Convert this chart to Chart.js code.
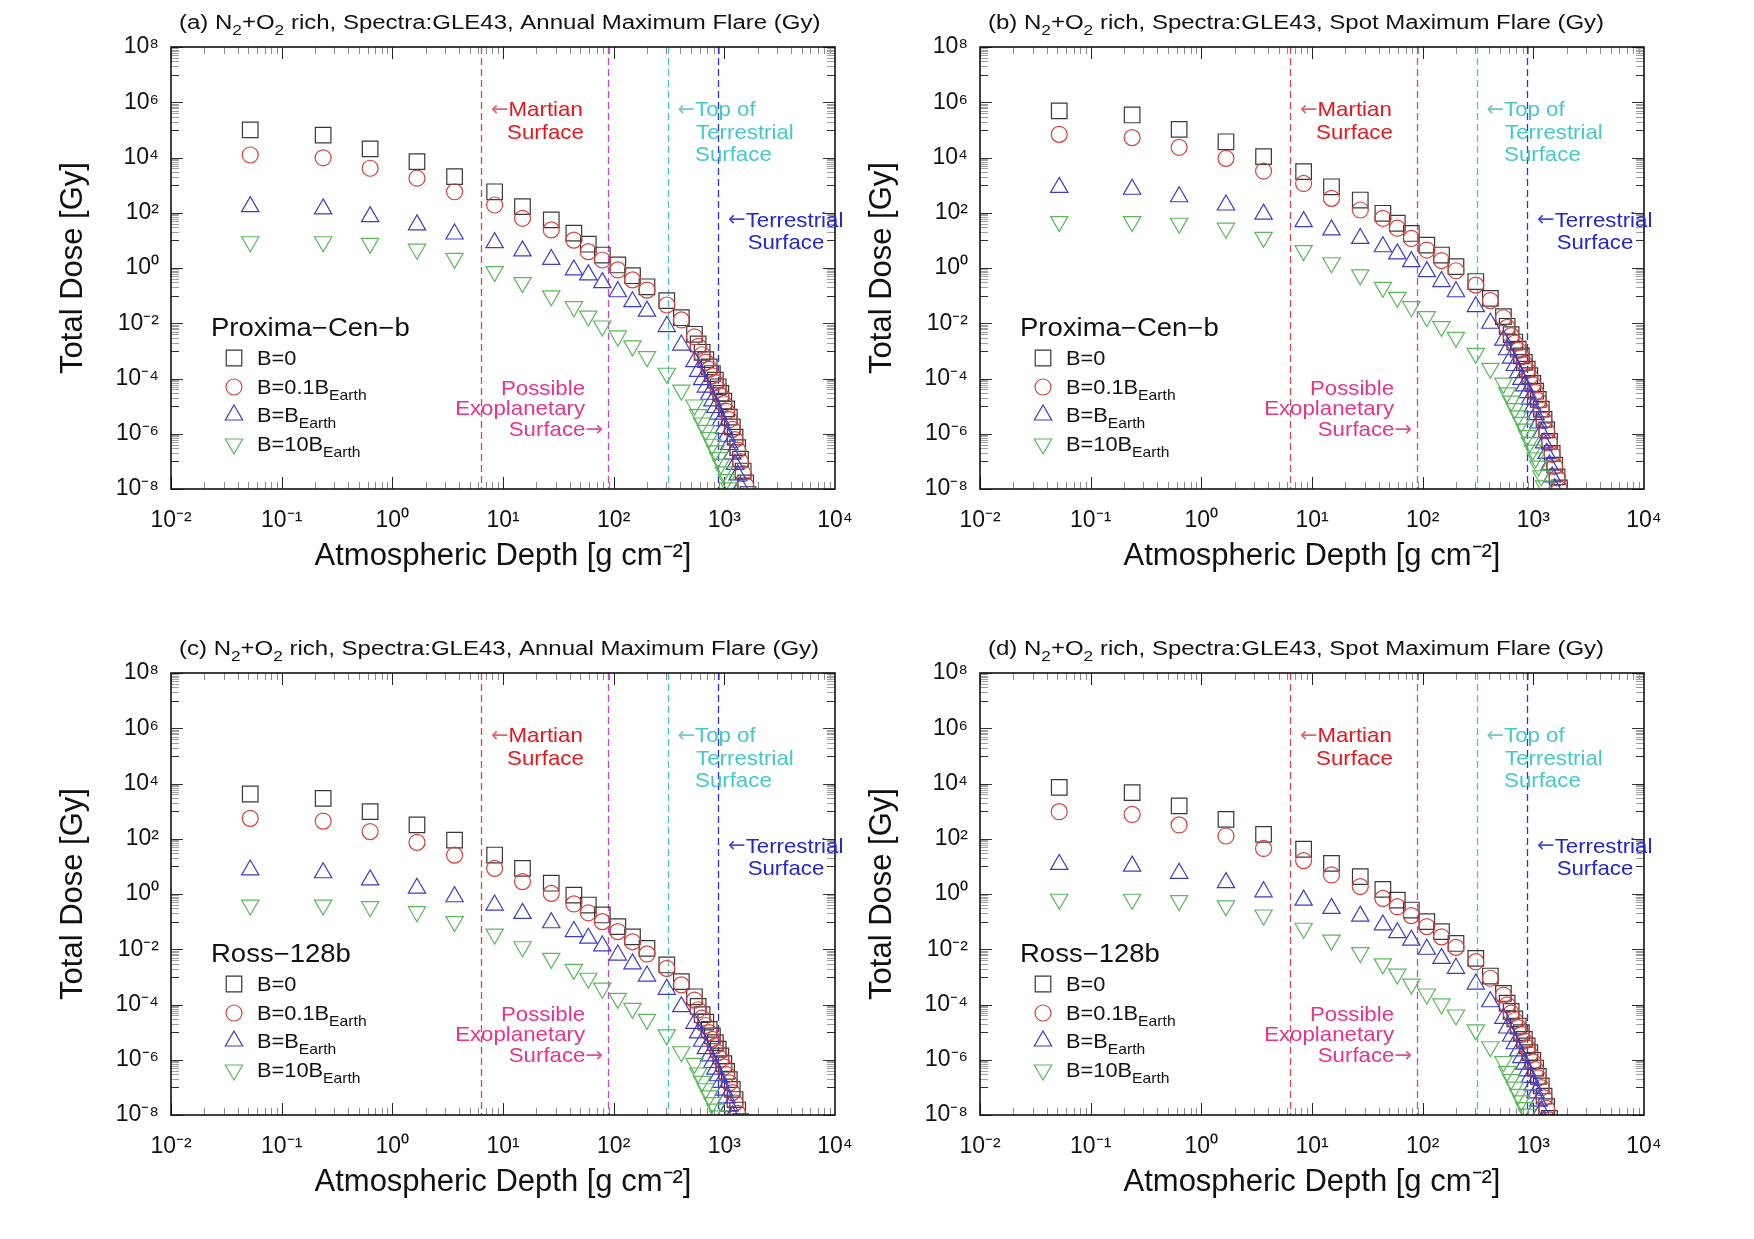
<!DOCTYPE html>
<html>
<head>
<meta charset="utf-8">
<title>Total dose vs atmospheric depth</title>
<script src="https://cdn.jsdelivr.net/npm/chart.js@4.4.1/dist/chart.umd.min.js"></script>
<style>
  html, body { margin: 0; padding: 0; background: #fff; }
  #page { position: relative; width: 1754px; height: 1239px; overflow: hidden; }
  .panel { position: absolute; width: 877px; height: 613px; }
</style>
</head>
<body>
<div id="page">
  <div class="panel" style="left:0px;top:0px"><canvas id="chartA" width="877" height="613"></canvas></div>
  <div class="panel" style="left:809px;top:0px"><canvas id="chartB" width="877" height="613"></canvas></div>
  <div class="panel" style="left:0px;top:626px"><canvas id="chartC" width="877" height="613"></canvas></div>
  <div class="panel" style="left:809px;top:626px"><canvas id="chartD" width="877" height="613"></canvas></div>
</div>
<script>
// atmospheric depth grid, g cm^-2 (same for every panel)
const depthLow = [0.052, 0.237, 0.63, 1.67, 3.65, 8.4, 15, 27.3, 43.7, 59, 79, 109, 148, 200, 302, 409, 537];
const depthDeep = [580, 630, 680, 730, 780, 830, 880, 930, 990, 1050, 1110, 1180, 1250, 1320, 1400, 1480, 1560, 1640, 1720, 1800];
const depth = depthLow.concat(depthDeep);

// total dose, stored as log10(Gy)
// (a) Proxima-Cen-b, annual maximum flare
const aB0 = [5.0, 4.81, 4.31, 3.85, 3.31, 2.76, 2.22, 1.74, 1.26, 0.86, 0.47, 0.11, -0.28, -0.68, -1.18, -1.80, -2.40,
  -2.75, -3.05, -3.32, -3.58, -3.82, -4.06, -4.30, -4.54, -4.82, -5.10, -5.40, -5.75, -6.12, -6.50, -6.92, -7.35, -7.78, -8.20];
const aB01 = [4.09, 3.99, 3.61, 3.25, 2.76, 2.28, 1.80, 1.38, 1.01, 0.59, 0.29, -0.07, -0.43, -0.80, -1.34, -1.88, -2.49,
  -2.84, -3.14, -3.41, -3.67, -3.91, -4.15, -4.39, -4.63, -4.91, -5.19, -5.49, -5.84, -6.21, -6.59, -7.01, -7.44, -7.87, -8.29];
const aB1 = [2.22, 2.14, 1.86, 1.56, 1.23, 0.92, 0.62, 0.31, -0.07, -0.25, -0.53, -0.86, -1.22, -1.56, -2.12, -2.79, -3.39,
  -3.74, -4.04, -4.31, -4.57, -4.81, -5.05, -5.29, -5.53, -5.81, -6.09, -6.39, -6.74, -7.11, -7.49, -7.91, -8.34];
const aB10 = [0.95, 0.95, 0.89, 0.68, 0.35, -0.13, -0.53, -1.01, -1.40, -1.74, -2.10, -2.46, -2.82, -3.21, -3.81, -4.42, -4.96,
  -5.31, -5.61, -5.88, -6.14, -6.38, -6.62, -6.86, -7.10, -7.38, -7.66, -7.96, -8.31];

// (b) Proxima-Cen-b, spot maximum flare
const bB0 = [5.69, 5.54, 5.02, 4.57, 4.03, 3.49, 2.94, 2.46, 1.98, 1.62, 1.25, 0.83, 0.47, 0.05, -0.49, -1.10, -1.76,
  -2.11, -2.41, -2.68, -2.94, -3.18, -3.42, -3.66, -3.90, -4.18, -4.46, -4.76, -5.11, -5.48, -5.86, -6.28, -6.71, -7.14, -7.56, -7.96, -8.38];
const bB01 = [4.84, 4.72, 4.37, 3.97, 3.51, 3.06, 2.52, 2.10, 1.80, 1.44, 1.07, 0.65, 0.27, -0.10, -0.62, -1.18, -1.80,
  -2.15, -2.45, -2.72, -2.98, -3.22, -3.46, -3.70, -3.94, -4.22, -4.50, -4.80, -5.15, -5.52, -5.90, -6.32, -6.75, -7.18, -7.60, -8.00];
const bB1 = [2.92, 2.85, 2.58, 2.28, 1.95, 1.68, 1.38, 1.07, 0.77, 0.51, 0.23, -0.13, -0.49, -0.86, -1.40, -2.00, -2.61,
  -2.96, -3.26, -3.53, -3.79, -4.03, -4.27, -4.51, -4.75, -5.03, -5.31, -5.61, -5.96, -6.33, -6.71, -7.13, -7.56, -7.99, -8.41];
const bB10 = [1.68, 1.68, 1.62, 1.44, 1.11, 0.63, 0.19, -0.25, -0.70, -1.06, -1.40, -1.76, -2.12, -2.51, -3.09, -3.63, -4.17,
  -4.52, -4.82, -5.09, -5.35, -5.59, -5.83, -6.07, -6.31, -6.59, -6.87, -7.17, -7.52, -7.89, -8.27];

// (c) Ross-128b, annual maximum flare
const cB0 = [3.62, 3.46, 2.98, 2.50, 1.95, 1.41, 0.93, 0.39, -0.04, -0.40, -0.76, -1.18, -1.55, -1.97, -2.57, -3.17, -3.72,
  -4.07, -4.37, -4.64, -4.90, -5.14, -5.38, -5.62, -5.86, -6.14, -6.42, -6.72, -7.07, -7.44, -7.82, -8.24];
const cB01 = [2.74, 2.64, 2.26, 1.87, 1.41, 0.93, 0.45, 0.02, -0.36, -0.68, -1.00, -1.36, -1.73, -2.17, -2.69, -3.29, -3.84,
  -4.19, -4.49, -4.76, -5.02, -5.26, -5.50, -5.74, -5.98, -6.26, -6.54, -6.84, -7.19, -7.56, -7.94, -8.36];
const cB1 = [0.87, 0.77, 0.51, 0.21, -0.10, -0.40, -0.70, -1.04, -1.36, -1.60, -1.88, -2.21, -2.53, -2.97, -3.45, -4.08, -4.68,
  -5.03, -5.33, -5.60, -5.86, -6.10, -6.34, -6.58, -6.82, -7.10, -7.38, -7.68, -8.03, -8.40];
const cB10 = [-0.40, -0.40, -0.46, -0.64, -1.00, -1.45, -1.91, -2.33, -2.73, -3.05, -3.41, -3.78, -4.14, -4.54, -5.10, -5.71, -6.13,
  -6.48, -6.78, -7.05, -7.31, -7.55, -7.79, -8.03, -8.27];

// (d) Ross-128b, spot maximum flare
const dB0 = [3.86, 3.67, 3.19, 2.70, 2.16, 1.62, 1.11, 0.63, 0.17, -0.22, -0.58, -1.00, -1.36, -1.79, -2.33, -2.97, -3.60,
  -3.95, -4.25, -4.52, -4.78, -5.02, -5.26, -5.50, -5.74, -6.02, -6.30, -6.60, -6.95, -7.32, -7.70, -8.12];
const dB01 = [2.98, 2.88, 2.50, 2.10, 1.65, 1.21, 0.69, 0.27, -0.16, -0.46, -0.78, -1.18, -1.55, -1.93, -2.45, -3.05, -3.66,
  -4.01, -4.31, -4.58, -4.84, -5.08, -5.32, -5.56, -5.80, -6.08, -6.36, -6.66, -7.01, -7.38, -7.76, -8.18];
const dB1 = [1.07, 1.01, 0.75, 0.41, 0.08, -0.22, -0.52, -0.80, -1.12, -1.40, -1.67, -2.00, -2.33, -2.69, -3.26, -3.90, -4.50,
  -4.85, -5.15, -5.42, -5.68, -5.92, -6.16, -6.40, -6.64, -6.92, -7.20, -7.50, -7.85, -8.22];
const dB10 = [-0.19, -0.19, -0.24, -0.43, -0.76, -1.24, -1.67, -2.12, -2.53, -2.90, -3.26, -3.62, -3.98, -4.38, -4.92, -5.53, -6.07,
  -6.42, -6.72, -6.99, -7.25, -7.49, -7.73, -7.97, -8.21];

const seriesNames = ['B=0', 'B=0.1B_Earth', 'B=B_Earth', 'B=10B_Earth'];
const xTickExp = [-2, -1, 0, 1, 2, 3, 4];
const yTickExp = [-8, -6, -4, -2, 0, 2, 4, 6, 8];
// vertical reference depths, g cm^-2
const martianDepth = 6.3;
const exoplanetDepth = 89;
const topTerrestrialDepth = 310;
const terrestrialDepth = 870;

const FONT = '"Liberation Sans", Arial, Helvetica, sans-serif';
const ARROW_FONT = '"DejaVu Sans", "Liberation Sans", sans-serif';
const SUP = { '-': '⁻', '0': '⁰', '1': '¹', '2': '²', '3': '³', '4': '⁴', '5': '⁵', '6': '⁶', '7': '⁷', '8': '⁸', '9': '⁹' };
const sup = n => String(n).split('').map(c => SUP[c]).join('');

const markers = [
  { pointStyle: 'rect', radius: 11, rotation: 0, color: '#383838' },
  { pointStyle: 'circle', radius: 8, rotation: 0, color: '#d8413b' },
  { pointStyle: 'triangle', radius: 10, rotation: 0, color: '#3c3cc6' },
  { pointStyle: 'triangle', radius: 10, rotation: 180, color: '#5cb85c' }
];

function toPoints(logs) {
  return logs.map((v, i) => ({ x: depth[i], y: Math.pow(10, v) }));
}

// text with sub/superscript pieces, y is the baseline, sx stretches horizontally
function drawRich(ctx, parts, x, y, size, color, align, sx) {
  sx = sx || 1;
  let w = 0;
  const segs = parts.map(([t, k]) => {
    const s = (k === 'sub' || k === 'sup') ? size * 0.72 : size;
    const fam = k === 'arrow' ? ARROW_FONT : FONT;
    ctx.font = s + 'px ' + fam;
    const sw = ctx.measureText(t).width * sx;
    w += sw;
    return { t, k, s, sw, fam };
  });
  let cx = align === 'right' ? x - w : (align === 'center' ? x - w / 2 : x);
  ctx.fillStyle = color;
  ctx.textAlign = 'left';
  ctx.textBaseline = 'alphabetic';
  for (const g of segs) {
    ctx.font = g.s + 'px ' + g.fam;
    const dy = g.k === 'sub' ? size * 0.3 : (g.k === 'sup' ? -size * 0.45 : (g.k === 'arrow' ? -size * 0.02 : 0));
    ctx.save();
    ctx.translate(cx, y + dy);
    ctx.scale(sx, 1);
    ctx.fillText(g.t, 0, 0);
    ctx.restore();
    cx += g.sw;
  }
  return w;
}

function richLabel(name) {
  const i = name.indexOf('_');
  if (i < 0) return [[name, '']];
  return [[name.slice(0, i), ''], [name.slice(i + 1), 'sub']];
}

function seg(ctx, x1, y1, x2, y2) {
  ctx.beginPath();
  ctx.moveTo(x1, y1);
  ctx.lineTo(x2, y2);
  ctx.stroke();
}

const axesDeco = {
  id: 'axesDeco',
  beforeDatasetsDraw(chart) {
    const { ctx, chartArea: ca, scales: { x, y } } = chart;
    ctx.save();
    // dashed reference lines
    const refs = [
      [martianDepth, '#d64848'],
      [exoplanetDepth, '#c447c8'],
      [topTerrestrialDepth, '#4cc4c4'],
      [terrestrialDepth, '#2f2fe0']
    ];
    ctx.lineWidth = 1.3;
    ctx.setLineDash([7, 4]);
    for (const [d, col] of refs) {
      const px = Math.round(x.getPixelForValue(d)) + 0.5;
      ctx.strokeStyle = col;
      seg(ctx, px, ca.top, px, ca.bottom);
    }
    ctx.setLineDash([]);
    // inward ticks on all four sides
    ctx.lineWidth = 1;
    for (let e = -2; e < 4; e++) {
      for (let m = 1; m <= 9; m++) {
        const px = Math.round(x.getPixelForValue(m * Math.pow(10, e))) + 0.5;
        const len = m === 1 ? 12 : 7;
        ctx.strokeStyle = m === 1 ? '#222' : '#8a8a8a';
        seg(ctx, px, ca.bottom, px, ca.bottom - len);
        seg(ctx, px, ca.top, px, ca.top + len);
      }
    }
    for (let e = -8; e <= 8; e++) {
      const py = Math.round(y.getPixelForValue(Math.pow(10, e))) + 0.5;
      ctx.strokeStyle = '#333';
      const len = e % 2 === 0 ? 12 : 8;
      seg(ctx, ca.left, py, ca.left + len, py);
      seg(ctx, ca.right, py, ca.right - len, py);
      if (e % 2 !== 0 && e < 8) {
        ctx.strokeStyle = '#a0a0a0';
        for (let m = 2; m <= 9; m++) {
          const pm = Math.round(y.getPixelForValue(m * Math.pow(10, e))) + 0.5;
          seg(ctx, ca.left, pm, ca.left + 8, pm);
          seg(ctx, ca.right, pm, ca.right - 8, pm);
        }
      }
    }
    ctx.restore();
  },
  afterDatasetsDraw(chart) {
    const { ctx, chartArea: ca, scales: { x } } = chart;
    const o = chart.options.plugins.axesDeco;
    ctx.save();
    ctx.strokeStyle = '#111';
    ctx.lineWidth = 1.6;
    ctx.strokeRect(ca.left, ca.top, ca.right - ca.left, ca.bottom - ca.top);

    // panel heading
    drawRich(ctx, o.title, ca.left + 8, 29, 20, '#111', 'left', 1.2);

    // legend
    drawRich(ctx, [[o.planet, '']], 211, 336, 25, '#111', 'left', 1.1);
    const rows = [358, 387, 415, 444];
    seriesNames.forEach((name, i) => {
      const mk = markers[i];
      ctx.strokeStyle = mk.color;
      ctx.fillStyle = 'rgba(0,0,0,0)';
      ctx.lineWidth = 1.2;
      Chart.helpers.drawPoint(ctx, { pointStyle: mk.pointStyle, rotation: mk.rotation, radius: mk.radius, borderWidth: 1.2 }, 234, rows[i]);
      drawRich(ctx, richLabel(name), 257, rows[i] + 7, 20, '#111', 'left', 1.09);
    });

    // reference line captions
    const fs = 21, st = 1.06;
    const xr = x.getPixelForValue(martianDepth);
    const xm = x.getPixelForValue(exoplanetDepth);
    const xc = x.getPixelForValue(topTerrestrialDepth);
    const xb = x.getPixelForValue(terrestrialDepth);
    const t = ca.top;
    const w = drawRich(ctx, [['Martian', '']], xr + 102, t + 69, fs, '#e8161c', 'right', st);
    drawRich(ctx, [['←', 'arrow']], xr + 102 - w, t + 69, fs, '#e06a6a', 'right');
    drawRich(ctx, [['Surface', '']], xr + 103, t + 91.5, fs, '#e8161c', 'right', st);

    drawRich(ctx, [['←', 'arrow']], xc + 27, t + 69, fs, '#78c8c8', 'right');
    drawRich(ctx, [['Top of', '']], xc + 27, t + 69, fs, '#45c8c8', 'left', st);
    drawRich(ctx, [['Terrestrial', '']], xc + 28, t + 91.5, fs, '#45c8c8', 'left', st);
    drawRich(ctx, [['Surface', '']], xc + 27, t + 114, fs, '#45c8c8', 'left', st);

    drawRich(ctx, [['←', 'arrow']], xb + 28, t + 179.5, fs, '#4a4ad8', 'right');
    drawRich(ctx, [['Terrestrial', '']], xb + 28, t + 179.5, fs, '#2424d0', 'left', st);
    drawRich(ctx, [['Surface', '']], xb + 30, t + 202, fs, '#2424d0', 'left', st);

    drawRich(ctx, [['Possible', '']], xm - 23, t + 347.5, fs, '#e6338c', 'right', st);
    drawRich(ctx, [['Exoplanetary', '']], xm - 23, t + 367.5, fs, '#e6338c', 'right', st);
    const aw = drawRich(ctx, [['→', 'arrow']], xm - 5, t + 389, fs, '#e050a0', 'right');
    drawRich(ctx, [['Surface', '']], xm - 5 - aw, t + 389, fs, '#e6338c', 'right', st);
    ctx.restore();
  }
};

const panels = [
  { id: 'chartA', tag: '(a)', flare: 'Annual', planet: 'Proxima−Cen−b', series: [aB0, aB01, aB1, aB10] },
  { id: 'chartB', tag: '(b)', flare: 'Spot', planet: 'Proxima−Cen−b', series: [bB0, bB01, bB1, bB10] },
  { id: 'chartC', tag: '(c)', flare: 'Annual', planet: 'Ross−128b', series: [cB0, cB01, cB1, cB10] },
  { id: 'chartD', tag: '(d)', flare: 'Spot', planet: 'Ross−128b', series: [dB0, dB01, dB1, dB10] }
];

const tickFont = { family: FONT, size: 23 };

panels.forEach(p => {
  const datasets = p.series.map((logs, i) => ({
    label: seriesNames[i],
    data: toPoints(logs),
    order: 4 - i,
    showLine: false,
    pointStyle: markers[i].pointStyle,
    pointRotation: markers[i].rotation,
    pointRadius: markers[i].radius,
    pointBorderColor: markers[i].color,
    pointBackgroundColor: 'rgba(0,0,0,0)',
    pointBorderWidth: 1.2
  }));
  new Chart(document.getElementById(p.id), {
    type: 'scatter',
    data: { datasets },
    plugins: [axesDeco],
    options: {
      responsive: false,
      animation: false,
      devicePixelRatio: 1,
      events: [],
      layout: { padding: { left: 0, top: 47, right: 42, bottom: 0 } },
      plugins: {
        legend: { display: false },
        tooltip: { enabled: false },
        axesDeco: {
          title: [[p.tag + ' N', ''], ['2', 'sub'], ['+O', ''], ['2', 'sub'],
                  [' rich, Spectra:GLE43, ' + p.flare + ' Maximum Flare (Gy)', '']],
          planet: p.planet
        }
      },
      scales: {
        x: {
          type: 'logarithmic',
          min: 1e-2,
          max: 1e4,
          grid: { display: false },
          border: { display: false },
          afterBuildTicks: s => { s.ticks = xTickExp.map(e => ({ value: Math.pow(10, e) })); },
          afterFit: s => { s.height = 124; },
          ticks: {
            autoSkip: false, maxRotation: 0, padding: 10, color: '#111', font: tickFont,
            callback: v => '10' + sup(Math.round(Math.log10(v)))
          },
          title: {
            display: true, text: 'Atmospheric Depth [g cm⁻²]', color: '#111',
            font: { family: FONT, size: 31 }, padding: { top: 0, bottom: 38 }
          }
        },
        y: {
          type: 'logarithmic',
          min: 1e-8,
          max: 1e8,
          grid: { display: false },
          border: { display: false },
          afterBuildTicks: s => { s.ticks = yTickExp.map(e => ({ value: Math.pow(10, e) })); },
          afterFit: s => { s.width = 171; },
          ticks: {
            autoSkip: false, padding: 4, color: '#111', font: tickFont,
            callback: v => '10' + sup(Math.round(Math.log10(v)))
          },
          title: {
            display: true, text: 'Total Dose [Gy]', color: '#111',
            font: { family: FONT, size: 31 }, padding: { top: 55, bottom: 0 }
          }
        }
      }
    }
  });
});
</script>
</body>
</html>
